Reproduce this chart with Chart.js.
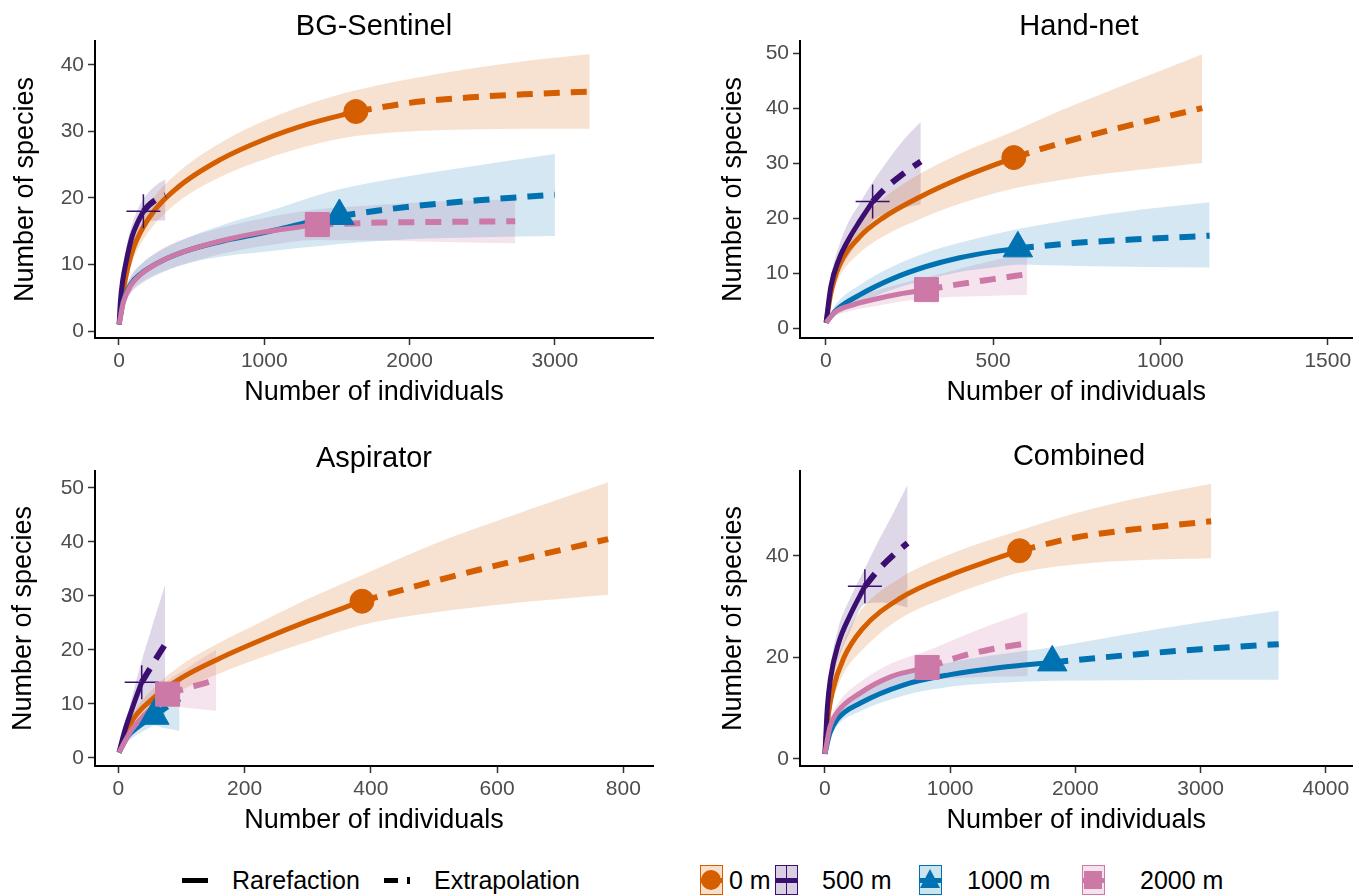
<!DOCTYPE html>
<html>
<head>
<meta charset="utf-8">
<script src="https://cdn.jsdelivr.net/npm/chart.js@4.4.1/dist/chart.umd.min.js"></script>
<style>
  body { margin: 0; background: #fff; font-family: "Liberation Sans", Arial, sans-serif; }
  #page { position: relative; width: 1371px; height: 896px; overflow: hidden; background: #fff; }
  canvas { position: absolute; }
  .ttl { position: absolute; width: 400px; text-align: center; font-size: 29px; line-height: 34px; color: #000; }
  .lt { position: absolute; top: 865px; font-size: 25px; line-height: 30px; color: #000; white-space: nowrap; }
  .key { position: absolute; top: 865px; width: 23px; height: 30px; box-sizing: border-box; border: 1.5px solid; overflow: hidden; }
  .key i { position: absolute; left: 0; right: 0; top: 12px; height: 5px; }
</style>
</head>
<body>
<div id="page">
  <canvas id="c1" width="685" height="425" style="left:0;top:0"></canvas>
  <canvas id="c2" width="686" height="425" style="left:685px;top:0"></canvas>
  <canvas id="c3" width="685" height="425" style="left:0;top:425px"></canvas>
  <canvas id="c4" width="686" height="425" style="left:685px;top:425px"></canvas>

  <div class="ttl" style="left:174px;top:8px">BG-Sentinel</div>
  <div class="ttl" style="left:879px;top:8px">Hand-net</div>
  <div class="ttl" style="left:174px;top:440px">Aspirator</div>
  <div class="ttl" style="left:879px;top:438px">Combined</div>

  <div style="position:absolute;left:182px;top:878px;width:26px;height:5px;background:#000"></div>
  <div class="lt" style="left:232px">Rarefaction</div>
  <div style="position:absolute;left:384px;top:878px;width:14px;height:5px;background:#000"></div>
  <div style="position:absolute;left:407px;top:877px;width:3px;height:7px;background:#000"></div>
  <div class="lt" style="left:434px">Extrapolation</div>

  <div class="key" style="left:700px;border-color:#D55E00;background:rgba(213,94,0,0.2)">
    <i style="background:#D55E00"></i>
    <div style="position:absolute;left:0px;top:4px;width:20px;height:20px;border-radius:50%;background:#D55E00"></div>
  </div>
  <div class="lt" style="left:729px">0 m</div>
  <div class="key" style="left:775px;border-color:#3B0F6F;background:rgba(59,15,111,0.2)">
    <i style="background:#3B0F6F"></i>
    <div style="position:absolute;left:9.5px;top:0;width:1.5px;height:30px;background:#3B0F6F"></div>
  </div>
  <div class="lt" style="left:822px">500 m</div>
  <div class="key" style="left:919px;border-color:#0072B2;background:rgba(0,114,178,0.2)">
    <i style="background:#0072B2"></i>
    <div style="position:absolute;left:0;top:3px;width:0;height:0;border-left:10px solid transparent;border-right:10px solid transparent;border-bottom:19px solid #0072B2"></div>
  </div>
  <div class="lt" style="left:967px">1000 m</div>
  <div class="key" style="left:1082px;border-color:#CC79A7;background:rgba(204,121,167,0.2)">
    <i style="background:#CC79A7"></i>
    <div style="position:absolute;left:1px;top:5px;width:18px;height:18px;background:#CC79A7"></div>
  </div>
  <div class="lt" style="left:1140px">2000 m</div>
</div>
<script>
// species accumulation: rarefaction (r), extrapolation (e), band (b, lo, hi)
// BG-Sentinel
var bg0_rx = [1, 30, 60, 100, 200, 400, 700, 1000, 1300, 1630];
var bg0_ry = [1, 6, 9.5, 12.5, 16.8, 21.5, 25.8, 28.8, 31.1, 33];
var bg0_ex = [1630, 2000, 2400, 2800, 3240];
var bg0_ey = [33, 34.3, 35.1, 35.6, 36];
var bg0_bx = [1, 30, 60, 100, 200, 400, 700, 1000, 1300, 1630, 2000, 2400, 2800, 3240];
var bg0_lo = [1, 5, 8, 10.8, 14.8, 19.3, 23.2, 25.8, 27.8, 29.3, 30, 30.3, 30.4, 30.4];
var bg0_hi = [1, 7, 11, 14.2, 18.8, 23.7, 28.3, 31.6, 34.1, 36.2, 37.9, 39.4, 40.6, 41.6];

var bg5_rx = [1, 10, 25, 50, 90, 130, 168];
var bg5_ry = [1, 4.5, 7.5, 10.5, 14.2, 16.4, 18];
var bg5_ex = [168, 210, 260, 320];
var bg5_ey = [18, 19, 19.8, 20.4];
var bg5_bx = [1, 10, 25, 50, 90, 130, 168, 210, 260, 320];
var bg5_lo = [1, 3.5, 6, 8.5, 12.4, 14.5, 16.2, 16.5, 16.6, 16.6];
var bg5_hi = [1, 5.5, 9, 12.5, 16, 18.3, 19.8, 21, 22, 22.8];

var bg10_rx = [1, 30, 80, 150, 300, 500, 750, 1000, 1250, 1517];
var bg10_ry = [1, 4.5, 7, 8.6, 10.6, 12.3, 13.7, 14.8, 16.1, 17.3];
var bg10_ex = [1517, 2000, 2500, 3000];
var bg10_ey = [17.3, 18.7, 19.7, 20.5];
var bg10_bx = [1, 30, 80, 150, 300, 500, 750, 1000, 1250, 1517, 2000, 2500, 3000];
var bg10_lo = [1, 3.7, 5.8, 7.2, 8.9, 10.3, 11.3, 11.9, 12.5, 13.1, 13.8, 14.1, 14.3];
var bg10_hi = [1, 5.3, 8.2, 10, 12.3, 14.3, 16.2, 17.8, 19.6, 21.3, 23.3, 25, 26.6];

var bg20_rx = [1, 30, 80, 150, 300, 500, 750, 1000, 1365];
var bg20_ry = [1, 4.3, 6.8, 8.5, 10.6, 12.3, 13.8, 14.9, 16];
var bg20_ex = [1365, 1800, 2250, 2727];
var bg20_ey = [16, 16.3, 16.4, 16.5];
var bg20_bx = [1, 30, 80, 150, 300, 500, 750, 1000, 1365, 1800, 2250, 2727];
var bg20_lo = [1, 3.4, 5.6, 7, 8.8, 10.4, 11.8, 12.8, 13.7, 13.6, 13.4, 13.2];
var bg20_hi = [1, 5.2, 8, 10, 12.4, 14.2, 15.8, 17, 18.3, 19, 19.5, 19.8];

// Hand-net
var hn0_rx = [1, 15, 40, 100, 170, 280, 400, 562];
var hn0_ry = [1, 6.3, 11.3, 16.5, 20, 23.8, 27.2, 31];
var hn0_ex = [562, 700, 850, 1000, 1125];
var hn0_ey = [31, 33.6, 36, 38.2, 40];
var hn0_bx = [1, 15, 40, 100, 170, 280, 400, 562, 700, 850, 1000, 1125];
var hn0_lo = [1, 5, 9.2, 13.6, 16.6, 19.8, 22.6, 25.4, 26.9, 28.2, 29.2, 30];
var hn0_hi = [1, 7.5, 13.5, 19.5, 23.5, 28, 31.7, 35.8, 39.5, 43.2, 46.8, 49.8];

var hn5_rx = [1, 15, 40, 70, 100, 140];
var hn5_ry = [1, 7.5, 12.6, 16.3, 19.3, 23];
var hn5_ex = [140, 180, 230, 284];
var hn5_ey = [23, 25.5, 28, 30.3];
var hn5_bx = [1, 15, 40, 70, 100, 140, 180, 230, 284];
var hn5_lo = [1, 6, 10.3, 13.3, 16, 19.5, 20.8, 21.8, 22.5];
var hn5_hi = [1, 9, 15, 19.5, 22.5, 26.5, 30, 34, 37.5];

var hn10_rx = [1, 30, 100, 200, 300, 400, 500, 574];
var hn10_ry = [1, 3.2, 6, 9, 11.2, 12.8, 13.9, 14.5];
var hn10_ex = [574, 750, 950, 1147];
var hn10_ey = [14.5, 15.5, 16.2, 16.8];
var hn10_bx = [1, 30, 100, 200, 300, 400, 500, 574, 750, 950, 1147];
var hn10_lo = [1, 2.3, 4.5, 7, 8.8, 10.2, 11, 11.5, 11.3, 11.1, 11];
var hn10_hi = [1, 4.3, 7.8, 11.2, 13.7, 15.5, 17, 18, 19.9, 21.6, 22.9];

var hn20_rx = [1, 30, 80, 150, 220, 301];
var hn20_ry = [1, 3, 4.2, 5.3, 6.2, 7];
var hn20_ex = [301, 400, 500, 602];
var hn20_ey = [7, 8, 8.9, 9.8];
var hn20_bx = [1, 30, 80, 150, 220, 301, 400, 500, 602];
var hn20_lo = [1, 2.3, 3.2, 4, 4.8, 5.4, 5.7, 5.9, 6];
var hn20_hi = [1, 3.8, 5.4, 6.8, 8, 9.2, 10.8, 12.3, 13.7];

// Aspirator
var as0_rx = [1, 20, 55, 100, 160, 230, 300, 386];
var as0_ry = [1, 6.5, 11, 14.8, 18.4, 22, 25.3, 29];
var as0_ex = [386, 500, 640, 776];
var as0_ey = [29, 32.7, 36.8, 40.5];
var as0_bx = [1, 20, 55, 100, 160, 230, 300, 386, 500, 640, 776];
var as0_lo = [1, 5.5, 9.3, 12.5, 15.6, 18.7, 21.5, 24.6, 26.9, 28.8, 30.2];
var as0_hi = [1, 7.5, 12.8, 17.2, 21.3, 25.4, 29.4, 33.8, 39.6, 45.5, 51];

var as5_rx = [1, 10, 20, 30, 37];
var as5_ry = [1, 5, 8.5, 11.8, 14];
var as5_ex = [37, 50, 62, 74];
var as5_ey = [14, 16.5, 18.8, 21];
var as5_bx = [1, 10, 20, 30, 37, 50, 62, 74];
var as5_lo = [1, 4, 6.5, 8.6, 9.8, 9.5, 8.5, 7.2];
var as5_hi = [1, 6, 10.5, 15, 18, 23, 27.5, 32];

var as10_rx = [1, 15, 30, 45, 57];
var as10_ry = [1, 4, 5.6, 6.9, 7.8];
var as10_ex = [57, 70, 84, 97];
var as10_ey = [7.8, 8.9, 10, 11];
var as10_bx = [1, 15, 30, 45, 57, 70, 84, 97];
var as10_lo = [1, 3, 4.3, 5.3, 6, 5.6, 5.3, 5];
var as10_hi = [1, 5, 7, 8.6, 9.8, 11, 12.2, 13.3];

var as20_rx = [1, 20, 40, 60, 78];
var as20_ry = [1, 5, 7.8, 10, 11.8];
var as20_ex = [78, 105, 130, 155];
var as20_ey = [11.8, 12.8, 13.6, 14.5];
var as20_bx = [1, 20, 40, 60, 78, 105, 130, 155];
var as20_lo = [1, 4, 6.4, 8.2, 9.6, 9.3, 9, 8.7];
var as20_hi = [1, 6, 9.2, 12, 14.3, 16.3, 18.2, 20];

// Combined
var cb0_rx = [1, 30, 60, 150, 300, 600, 1000, 1300, 1555];
var cb0_ry = [1, 9, 13.2, 19.8, 25.6, 31.6, 36.2, 38.9, 41];
var cb0_ex = [1555, 2000, 2500, 3085];
var cb0_ey = [41, 43.6, 45.3, 46.8];
var cb0_bx = [1, 30, 60, 150, 300, 600, 1000, 1300, 1555, 2000, 2500, 3085];
var cb0_lo = [1, 7.5, 11, 16.8, 21.5, 27.6, 32.1, 34.8, 36.7, 38.3, 39.1, 39.5];
var cb0_hi = [1, 10.5, 15.5, 23, 29.6, 35.6, 40.3, 43, 45, 48.4, 51.4, 54.2];

var cb5_rx = [1, 20, 45, 110, 200, 320];
var cb5_ry = [1, 10, 15.8, 22.8, 28.2, 34];
var cb5_ex = [320, 430, 550, 661];
var cb5_ey = [34, 37.3, 40.2, 42.5];
var cb5_bx = [1, 20, 45, 110, 200, 320, 430, 550, 661];
var cb5_lo = [1, 8.5, 13.7, 19.7, 25, 30.5, 30.8, 30.5, 29.8];
var cb5_hi = [1, 11.5, 18, 26, 31.5, 37.5, 43, 48.6, 54];

var cb10_rx = [1, 40, 100, 285, 633, 1000, 1400, 1816];
var cb10_ry = [1, 5, 7.8, 11, 14.6, 16.6, 18, 19];
var cb10_ex = [1816, 2400, 3000, 3624];
var cb10_ey = [19, 20.4, 21.6, 22.6];
var cb10_bx = [1, 40, 100, 285, 633, 1000, 1400, 1816, 2400, 3000, 3624];
var cb10_lo = [1, 4, 6.6, 9.4, 12.5, 14.2, 15, 15.4, 15.5, 15.6, 15.6];
var cb10_hi = [1, 5.8, 9, 12.7, 16.8, 19, 20.6, 22, 24.5, 26.9, 29.2];

var cb20_rx = [1, 40, 100, 285, 529, 817];
var cb20_ry = [1, 6.2, 9.2, 13, 16.2, 18];
var cb20_ex = [817, 1100, 1350, 1620];
var cb20_ey = [18, 20.3, 21.7, 22.8];
var cb20_bx = [1, 40, 100, 285, 529, 817, 1100, 1350, 1620];
var cb20_lo = [1, 5.1, 7.7, 10.8, 13.6, 15.5, 16, 16.2, 16.3];
var cb20_hi = [1, 7.3, 10.7, 15.2, 18.8, 21.3, 24.2, 26.6, 29];

// axes
var bgXTicks = [0, 1000, 2000, 3000], bgYTicks = [0, 10, 20, 30, 40];
var hnXTicks = [0, 500, 1000, 1500], hnYTicks = [0, 10, 20, 30, 40, 50];
var asXTicks = [0, 200, 400, 600, 800], asYTicks = [0, 10, 20, 30, 40, 50];
var cbXTicks = [0, 1000, 2000, 3000, 4000], cbYTicks = [0, 20, 40];
var bgXLim = [-165, 3675], bgYLim = [-1.05, 43.6];
var hnXLim = [-77, 1574], hnYLim = [-1.8, 52.2];
var asXLim = [-37, 847], asYLim = [-1.5, 53.1];
var cbXLim = [-198, 4213], cbYLim = [-1.4, 56.7];

var FONT = "'Liberation Sans', Arial, sans-serif";
var colors = ["#D55E00", "#3B0F6F", "#0072B2", "#CC79A7"];
var fills = ["rgba(213,94,0,0.18)", "rgba(59,15,111,0.17)", "rgba(0,114,178,0.17)", "rgba(204,121,167,0.2)"];
var shapes = ["circle", "cross", "triangle", "rect"];
var radii = [12, 17, 17, 17];

function ser(rx, ry, ex, ey, bx, lo, hi) {
  return {rx: rx, ry: ry, ex: ex, ey: ey, bx: bx, lo: lo, hi: hi};
}
function pts(xs, ys) {
  return xs.map(function (x, i) { return {x: x, y: ys[i]}; });
}

// higher order draws first: bands, then lines (0 m under 2000 m), markers last
function makeDatasets(series) {
  var sets = [];
  series.forEach(function (s, i) {
    var lo = sets.length;
    sets.push({data: pts(s.bx, s.lo), borderColor: "rgba(0,0,0,0)", borderWidth: 0, pointRadius: 0,
      fill: false, order: 30, cubicInterpolationMode: "monotone"});
    sets.push({data: pts(s.bx, s.hi), borderColor: "rgba(0,0,0,0)", borderWidth: 0, pointRadius: 0,
      fill: lo, backgroundColor: fills[i], order: 30, cubicInterpolationMode: "monotone"});
  });
  series.forEach(function (s, i) {
    sets.push({data: pts(s.rx, s.ry), borderColor: colors[i], borderWidth: 5, pointRadius: 0,
      fill: false, order: 20 - i, cubicInterpolationMode: "monotone"});
    sets.push({data: pts(s.ex, s.ey), borderColor: colors[i], borderWidth: 6, borderDash: [16, 11],
      pointRadius: 0, fill: false, order: 20 - i, cubicInterpolationMode: "monotone"});
  });
  series.forEach(function (s, i) {
    var n = s.rx.length - 1;
    sets.push({data: [{x: s.rx[n], y: s.ry[n]}], showLine: false, pointStyle: shapes[i],
      pointRadius: radii[i], backgroundColor: colors[i], borderColor: colors[i],
      borderWidth: i == 1 ? 1.5 : 1, order: 10 - i});
  });
  return sets;
}

function axis(lim, ticks, title, size, tpad, horizontal) {
  return {
    type: "linear", min: lim[0], max: lim[1],
    afterBuildTicks: function (s) { s.ticks = ticks.map(function (v) { return {value: v}; }); },
    afterFit: function (s) { if (horizontal) s.height = size; else s.width = size; },
    grid: {display: true, drawOnChartArea: false, drawTicks: true, tickLength: 7, tickWidth: 1.5, tickColor: "#333"},
    border: {display: true, color: "#000", width: 2},
    ticks: {color: "#4D4D4D", padding: 4, autoSkip: false, maxRotation: 0,
      font: {size: 21, family: FONT}, callback: function (v) { return String(v); }},
    title: {display: true, text: title, color: "#000", font: {size: 27, family: FONT},
      padding: horizontal ? {top: 0, bottom: tpad} : {top: tpad, bottom: 0}}
  };
}

function panel(id, series, xlim, ylim, xticks, yticks, box) {
  new Chart(document.getElementById(id), {
    type: "line",
    data: {datasets: makeDatasets(series)},
    options: {
      responsive: false, animation: false, events: [],
      layout: {padding: {top: box.top, right: box.right, left: 0, bottom: 0}},
      plugins: {legend: {display: false}, tooltip: {enabled: false}},
      scales: {
        x: axis(xlim, xticks, "Number of individuals", box.xh, box.xpad, true),
        y: axis(ylim, yticks, "Number of species", box.yw, box.ypad, false)
      }
    }
  });
}

panel("c1", [ser(bg0_rx, bg0_ry, bg0_ex, bg0_ey, bg0_bx, bg0_lo, bg0_hi),
             ser(bg5_rx, bg5_ry, bg5_ex, bg5_ey, bg5_bx, bg5_lo, bg5_hi),
             ser(bg10_rx, bg10_ry, bg10_ex, bg10_ey, bg10_bx, bg10_lo, bg10_hi),
             ser(bg20_rx, bg20_ry, bg20_ex, bg20_ey, bg20_bx, bg20_lo, bg20_hi)],
  bgXLim, bgYLim, bgXTicks, bgYTicks, {top: 41, right: 32, xh: 87, xpad: 16, yw: 95, ypad: 9});

panel("c2", [ser(hn0_rx, hn0_ry, hn0_ex, hn0_ey, hn0_bx, hn0_lo, hn0_hi),
             ser(hn5_rx, hn5_ry, hn5_ex, hn5_ey, hn5_bx, hn5_lo, hn5_hi),
             ser(hn10_rx, hn10_ry, hn10_ex, hn10_ey, hn10_bx, hn10_lo, hn10_hi),
             ser(hn20_rx, hn20_ry, hn20_ex, hn20_ey, hn20_bx, hn20_lo, hn20_hi)],
  hnXLim, hnYLim, hnXTicks, hnYTicks, {top: 41, right: 13, xh: 87, xpad: 16, yw: 115, ypad: 32});

panel("c3", [ser(as0_rx, as0_ry, as0_ex, as0_ey, as0_bx, as0_lo, as0_hi),
             ser(as5_rx, as5_ry, as5_ex, as5_ey, as5_bx, as5_lo, as5_hi),
             ser(as10_rx, as10_ry, as10_ex, as10_ey, as10_bx, as10_lo, as10_hi),
             ser(as20_rx, as20_ry, as20_ex, as20_ey, as20_bx, as20_lo, as20_hi)],
  asXLim, asYLim, asXTicks, asYTicks, {top: 46, right: 32, xh: 84, xpad: 13, yw: 95, ypad: 7});

panel("c4", [ser(cb0_rx, cb0_ry, cb0_ex, cb0_ey, cb0_bx, cb0_lo, cb0_hi),
             ser(cb5_rx, cb5_ry, cb5_ex, cb5_ey, cb5_bx, cb5_lo, cb5_hi),
             ser(cb10_rx, cb10_ry, cb10_ex, cb10_ey, cb10_bx, cb10_lo, cb10_hi),
             ser(cb20_rx, cb20_ry, cb20_ex, cb20_ey, cb20_bx, cb20_lo, cb20_hi)],
  cbXLim, cbYLim, cbXTicks, cbYTicks, {top: 46, right: 13, xh: 84, xpad: 13, yw: 115, ypad: 32});
</script>
</body>
</html>
